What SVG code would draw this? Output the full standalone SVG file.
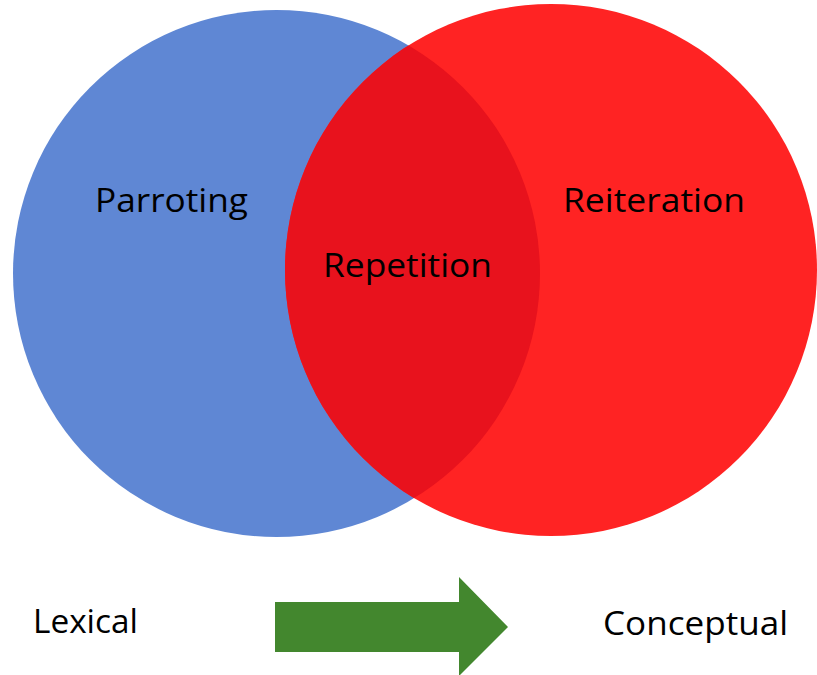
<svg xmlns="http://www.w3.org/2000/svg" width="817" height="675" viewBox="0 0 817 675">
  <style>
    .lbl { font-family: "Open Sans", "Liberation Sans", sans-serif; font-size: 33px; fill: #000; }
  </style>
  <defs>
    <clipPath id="blueClip">
      <circle cx="276.5" cy="273.5" r="263.5"/>
    </clipPath>
  </defs>
  <rect width="817" height="675" fill="#ffffff"/>
  <g id="parroting">
    <circle cx="276.5" cy="273.5" r="263.5" fill="#5F87D4"/>
    <text class="lbl" x="95" y="212" textLength="153" lengthAdjust="spacingAndGlyphs">Parroting</text>
  </g>
  <g id="reiteration">
    <circle cx="551" cy="270" r="266" fill="#FF2323"/>
    <text class="lbl" x="563" y="212" textLength="182" lengthAdjust="spacingAndGlyphs">Reiteration</text>
  </g>
  <g id="repetition">
    <circle cx="551" cy="270" r="266" fill="#E8121D" clip-path="url(#blueClip)"/>
    <text class="lbl" x="323" y="277" textLength="169" lengthAdjust="spacingAndGlyphs">Repetition</text>
  </g>
  <g id="lexical">
    <text class="lbl" x="33" y="633" textLength="105" lengthAdjust="spacingAndGlyphs">Lexical</text>
  </g>
  <g id="conceptual">
    <text class="lbl" x="603" y="635" textLength="185" lengthAdjust="spacingAndGlyphs">Conceptual</text>
  </g>
  <g id="connectors">
    <polygon points="275,602 459,602 459,577 508,627 459,676 459,652 275,652" fill="#43872E"/>
  </g>
</svg>
